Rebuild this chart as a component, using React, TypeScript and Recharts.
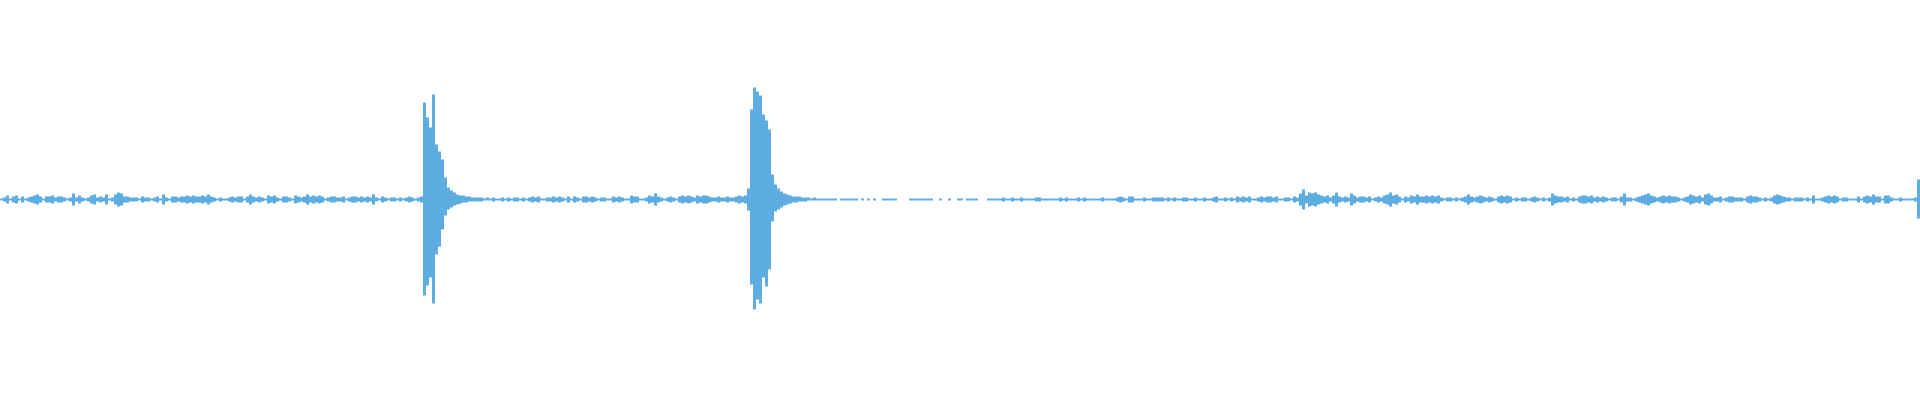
import { BarChart, Bar, XAxis, YAxis } from 'recharts';

// amplitude per 3px column (symmetric), in px-ish units around the zero line
const noiseA = [
  1, 2, 4, 1, 3, 4, 1, 3, 1, 2, 3, 4, 5, 3, 1, 3, 3, 4, 2, 3,
  3, 2, 1, 2, 6, 2, 4, 2, 1, 2, 4, 5, 2, 3, 2, 5, 1, 2, 5, 7,
  6, 3, 3, 2, 2, 2, 1, 3, 2, 2, 1, 2, 3, 1, 5, 2, 1, 3, 3, 2,
  3, 3, 4, 3, 4, 3, 3, 4, 3, 5, 3, 2, 1, 2, 1, 1, 2, 3, 2, 3,
  3, 1, 3, 5, 3, 2, 3, 2, 1, 4, 3, 4, 2, 1, 3, 3, 2, 1, 4, 3,
  2, 3, 5, 3, 4, 3, 4, 3, 1, 2, 3, 3, 2, 2, 3, 1, 2, 3, 3, 2,
  3, 2, 3, 2, 5, 2, 1, 3, 2, 1, 2, 2, 1, 2, 1, 2, 3, 2, 1, 2,
];

const burst1Hi = [3, 97, 82, 72, 105, 55, 48, 40, 22, 12, 9, 7, 5, 4, 4, 3, 3, 2, 2, 2, 2, 1, 2, 1, 2, 1, 1, 2, 1, 2];
const burst1Lo = [3, 96, 86, 78, 104, 55, 47, 30, 16, 10, 8, 6, 5, 4, 3, 3, 2, 2, 2, 2, 2, 1, 1, 1, 2, 1, 1, 2, 1, 2];

const midNoise = [
  1, 2, 2, 1, 2, 1, 2, 3, 2, 3, 1, 1, 2, 2, 3, 2, 3, 2, 1, 3,
  1, 3, 2, 1, 3, 3, 2, 3, 2, 1, 2, 2, 1, 1, 3, 2, 3, 2, 1, 1,
  4, 3, 3, 1, 1, 2, 4, 3, 6, 3, 2, 1, 2, 3, 2, 1, 3, 4, 3, 4,
  3, 2, 4, 3, 4, 4, 3, 2, 2, 3, 2, 2, 3, 2, 2, 3, 4, 3, 4,
];

const burst2Hi = [11, 90, 112, 108, 104, 85, 79, 70, 25, 15, 11, 8, 6, 5, 4, 3, 3, 3, 2, 2, 2, 1, 2, 1, 1];
const burst2Lo = [11, 85, 110, 100, 104, 78, 87, 70, 22, 12, 10, 8, 6, 5, 4, 3, 3, 2, 2, 2, 1, 1, 1, 1, 1];

const quiet = [
  1, 1, 1, 1, 1, 0, 1, 1, 1, 1, 1, 1, 0, 1, 0, 1, 0, 1, 0, 0,
  1, 1, 1, 1, 1, 0, 0, 0, 0, 1, 1, 1, 1, 1, 1, 1, 1, 0, 0, 1,
  0, 0, 1, 0, 0, 1, 1, 0, 1, 1, 1, 1, 0, 0, 0, 1, 1, 1, 1, 1,
  2, 1, 1, 2, 1, 1, 2, 1, 1, 1, 1, 2, 2, 1, 1, 1, 1, 1, 1, 2,
  1, 2, 1, 1, 1, 2, 1, 2, 1, 1, 1, 1, 1, 2, 1, 1, 1, 1, 2, 3,
  2, 1, 3, 3, 1, 1, 1, 2, 1, 1, 2, 2, 2, 2, 1, 2, 1, 2, 1, 1,
  2, 2, 1, 1, 2, 1, 1, 2, 1, 1, 2, 3, 1, 1, 2, 1, 2, 1, 3, 2,
  3, 2, 3, 1, 1, 2, 3, 2, 3, 3, 2, 3, 1, 1, 2, 2, 1, 3,
];

const noiseB = [
  2, 6, 10, 4, 7, 6, 7, 5, 4, 3, 4, 2, 4, 7, 3, 2, 3, 2, 6, 4,
  2, 3, 3, 2, 3, 1, 2, 3, 2, 4, 5, 7, 4, 5, 3, 1, 3, 2, 4, 3,
  5, 3, 3, 4, 3, 4, 3, 4, 2, 1, 2, 2, 1, 2, 1, 2, 3, 5, 3, 2,
  3, 4, 3, 2, 3, 2, 1, 3, 4, 3, 4, 3, 1, 2, 1, 2, 2, 1, 2, 3,
  2, 1, 2, 1, 2, 6, 4, 3, 3, 2, 3, 1, 2, 1, 3, 4, 4, 3, 4, 2,
  3, 2, 3, 2, 1, 2, 2, 1, 3, 6, 2, 2, 1, 2, 3, 4, 5, 6, 4, 3,
  2, 3, 4, 3, 4, 3, 3, 2, 1, 2, 3, 5, 4, 3, 4, 2, 5, 6, 4, 2,
  2, 3, 1, 2, 3, 3, 2, 2, 2, 1, 3, 4, 3, 3, 2, 1, 2, 1, 2, 4,
  5, 4, 3, 2, 2, 1, 2, 2, 2, 1, 2, 1, 4, 1, 1, 2, 3, 4, 3, 4,
  3, 1, 2, 2, 1, 1, 1, 3, 1, 3, 4, 3, 5, 3, 3, 1, 4, 4, 2, 1,
  1, 2, 1, 1, 1, 1, 2, 20,
];
const lastSpikeLo = 19;

const hi = [...noiseA, ...burst1Hi, ...midNoise, ...burst2Hi, ...quiet, ...noiseB];
const lo = [...noiseA, ...burst1Lo, ...midNoise, ...burst2Lo, ...quiet, ...noiseB.slice(0, -1), lastSpikeLo];

const data = hi.map((h, i) => ({ i, range: [-lo[i], h] }));

export default function App() {
  return (
    <div style={{ position: 'absolute', left: 0, top: 0, background: '#fff' }}>
      <BarChart
        width={1920}
        height={400}
        data={data}
        margin={{ top: 0, right: 0, left: 0, bottom: 0 }}
        barCategoryGap={0}
        barGap={0}
      >
        <XAxis dataKey="i" hide />
        <YAxis hide domain={[-200.5, 199.5]} />
        <Bar dataKey="range" fill="#5DADE2" isAnimationActive={false} />
      </BarChart>
    </div>
  );
}
